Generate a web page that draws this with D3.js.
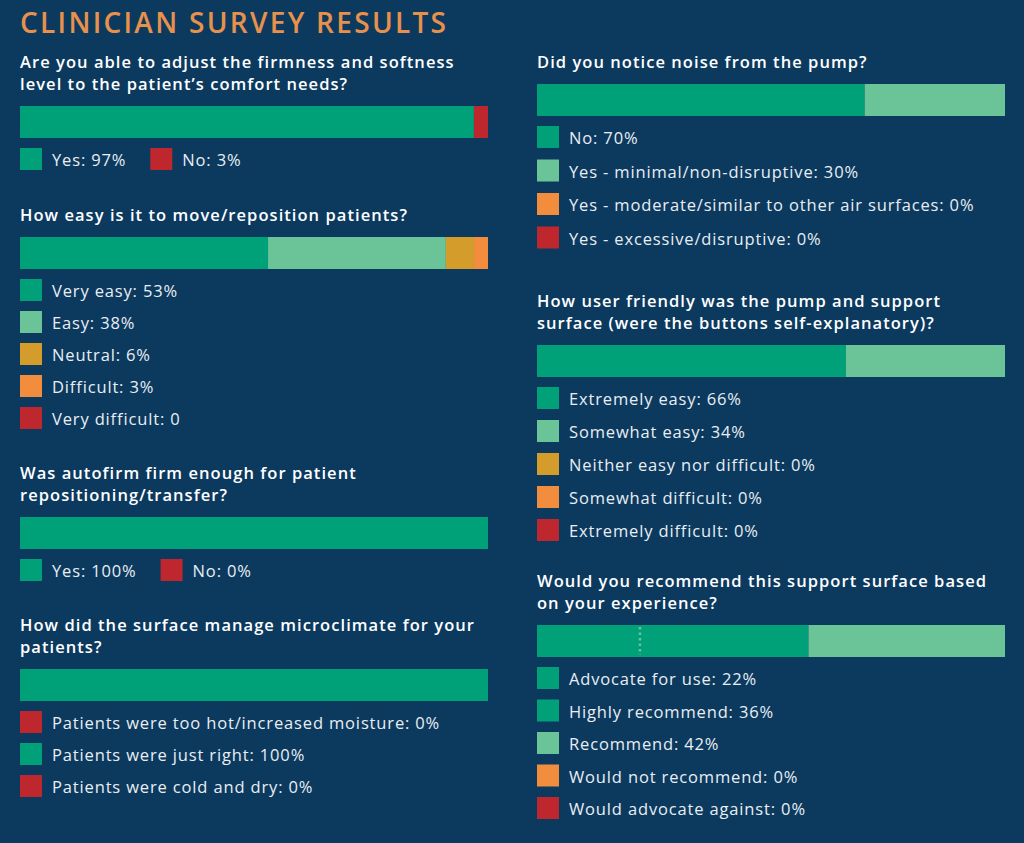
<!DOCTYPE html>
<html>
<head>
<meta charset="utf-8">
<script src="https://cdn.jsdelivr.net/npm/d3@7"></script>
<style>
  html, body { margin: 0; padding: 0; background: #0c3a5f; }
  svg { display: block; }
</style>
</head>
<body>
<svg id="chart"></svg>
<script>
// ---- data ----
var chartTitle = "CLINICIAN SURVEY RESULTS";

var q1Question = ["Are you able to adjust the firmness and softness", "level to the patient\u2019s comfort needs?"];
var q1Categories = ["Yes", "No"];
var q1Values = [97, 3];
var q1Units = ["%", "%"];

var q2Question = ["How easy is it to move/reposition patients?"];
var q2Categories = ["Very easy", "Easy", "Neutral", "Difficult", "Very difficult"];
var q2Values = [53, 38, 6, 3, 0];
var q2Units = ["%", "%", "%", "%", ""];

var q3Question = ["Was autofirm firm enough for patient", "repositioning/transfer?"];
var q3Categories = ["Yes", "No"];
var q3Values = [100, 0];
var q3Units = ["%", "%"];

var q4Question = ["How did the surface manage microclimate for your", "patients?"];
var q4Categories = ["Patients were too hot/increased moisture", "Patients were just right", "Patients were cold and dry"];
var q4Values = [0, 100, 0];
var q4Units = ["%", "%", "%"];

var q5Question = ["Did you notice noise from the pump?"];
var q5Categories = ["No", "Yes - minimal/non-disruptive", "Yes - moderate/similar to other air surfaces", "Yes - excessive/disruptive"];
var q5Values = [70, 30, 0, 0];
var q5Units = ["%", "%", "%", "%"];

var q6Question = ["How user friendly was the pump and support", "surface (were the buttons self-explanatory)?"];
var q6Categories = ["Extremely easy", "Somewhat easy", "Neither easy nor difficult", "Somewhat difficult", "Extremely difficult"];
var q6Values = [66, 34, 0, 0, 0];
var q6Units = ["%", "%", "%", "%", "%"];

var q7Question = ["Would you recommend this support surface based", "on your experience?"];
var q7Categories = ["Advocate for use", "Highly recommend", "Recommend", "Would not recommend", "Would advocate against"];
var q7Values = [22, 36, 42, 0, 0];
var q7Units = ["%", "%", "%", "%", "%"];

// ---- styles ----
var palette = {
    dark: "#00a078",
    light: "#6bc398",
    gold: "#d49d2b",
    orange: "#f28d3d",
    red: "#bf272e"
};
// colour tone for each answer, in answer order
var q1Tones = ["dark", "red"];
var q2Tones = ["dark", "light", "gold", "orange", "red"];
var q3Tones = ["dark", "red"];
var q4Tones = ["red", "dark", "red"];
var q5Tones = ["dark", "light", "orange", "red"];
var q6Tones = ["dark", "light", "gold", "orange", "red"];
var q7Tones = ["dark", "dark", "light", "orange", "red"];

var width = 1024, height = 843;
var barW = 468, barH = 32;
var sw = 22;   // legend swatch size
var font = "'Open Sans', sans-serif";

var svg = d3.select("#chart").attr("width", width).attr("height", height);

svg.append("rect").attr("width", width).attr("height", height).attr("fill", "#0c3a5f");

svg.append("text")
    .attr("x", 20).attr("y", 33)
    .attr("font-family", font)
    .attr("font-weight", 600)
    .attr("font-size", 28)
    .attr("letter-spacing", 2.3)
    .attr("fill", "#e8914c")
    .text(chartTitle);

function draw_panel(opts){
    var g = svg.append("g").attr("transform", "translate(" + opts.x + ",0)");

    // question lines
    opts.question.forEach(function(line, i){
        g.append("text")
            .attr("x", 0).attr("y", opts.y + i * 22)
            .attr("font-family", font)
            .attr("font-weight", 600)
            .attr("font-size", 16.5)
            .attr("letter-spacing", 1.05)
            .attr("fill", "#ffffff")
            .text(line);
    });

    var barTop = opts.y + (opts.question.length - 1) * 22 + 16;

    var x = d3.scaleLinear().domain([0, 100]).range([0, barW]);

    var segs = opts.values.map(function(v, i){
        return {value: v, start: d3.sum(opts.values.slice(0, i)), tone: opts.tones[i]};
    });

    g.selectAll("rect.seg")
        .data(segs.filter(function(d){ return d.value > 0; }))
        .enter().append("rect")
        .attr("class", "seg")
        .attr("x", function(d){ return x(d.start); })
        .attr("y", barTop)
        .attr("width", function(d){ return x(d.value); })
        .attr("height", barH)
        .attr("fill", function(d){ return palette[d.tone]; });

    // dotted divider between neighbouring answers of the same colour
    var nz = segs.filter(function(d){ return d.value > 0; });
    nz.forEach(function(d, i){
        if (i > 0 && nz[i-1].tone == d.tone){
            g.append("line")
                .attr("x1", x(d.start)).attr("x2", x(d.start))
                .attr("y1", barTop + 2).attr("y2", barTop + barH - 2)
                .attr("stroke", palette.light)
                .attr("stroke-width", 2.5)
                .attr("stroke-dasharray", "2.5,3");
        }
    });

    var legTop = barTop + barH + 10;
    var cx = 0;
    opts.categories.forEach(function(cat, i){
        var lx, ly;
        if (opts.inline){
            lx = cx; ly = legTop;
        } else {
            lx = 0; ly = legTop + i * opts.step;
        }
        g.append("rect")
            .attr("x", lx).attr("y", ly)
            .attr("width", sw).attr("height", sw)
            .attr("fill", palette[opts.tones[i]]);
        var t = g.append("text")
            .attr("x", lx + 32).attr("y", ly + 18)
            .attr("font-family", font)
            .attr("font-size", 16.5)
            .attr("letter-spacing", 0.85)
            .attr("fill", "#e9eef3")
            .text(cat + ": " + opts.values[i] + opts.units[i]);
        if (opts.inline){
            cx = lx + 32 + t.node().getComputedTextLength() + 24;
        }
    });
}

draw_panel({x: 20, y: 68, question: q1Question, categories: q1Categories, values: q1Values, units: q1Units, tones: q1Tones, inline: true});
draw_panel({x: 20, y: 221, question: q2Question, categories: q2Categories, values: q2Values, units: q2Units, tones: q2Tones, step: 32});
draw_panel({x: 20, y: 479, question: q3Question, categories: q3Categories, values: q3Values, units: q3Units, tones: q3Tones, inline: true});
draw_panel({x: 20, y: 631, question: q4Question, categories: q4Categories, values: q4Values, units: q4Units, tones: q4Tones, step: 32});

draw_panel({x: 537, y: 68, question: q5Question, categories: q5Categories, values: q5Values, units: q5Units, tones: q5Tones, step: 33.5});
draw_panel({x: 537, y: 307, question: q6Question, categories: q6Categories, values: q6Values, units: q6Units, tones: q6Tones, step: 33});
draw_panel({x: 537, y: 587, question: q7Question, categories: q7Categories, values: q7Values, units: q7Units, tones: q7Tones, step: 32.5});
</script>
</body>
</html>
